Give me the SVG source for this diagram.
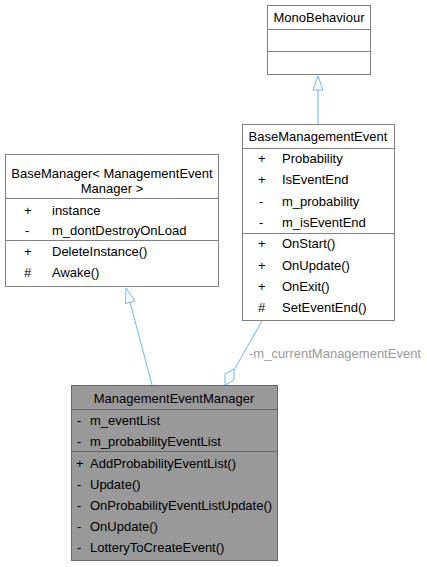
<svg xmlns="http://www.w3.org/2000/svg" width="427" height="567" viewBox="0 0 427 567">
<style>
text{font-family:"Liberation Sans",Arial,sans-serif;font-size:13px;fill:#000}
.box{fill:#fff;stroke:#808080;stroke-width:1}
.cur{fill:#999;stroke:#666;stroke-width:1}
.div{stroke:#808080;stroke-width:1}
.divc{stroke:#666;stroke-width:1}
.edge{fill:none;stroke:#63b8ff;stroke-width:1}
.head{fill:#fff;stroke:#63b8ff;stroke-width:1}
.lbl{fill:#9a9a9a}
.c{text-anchor:middle}
</style>
<g id="connectors">
<line class="edge" x1="318" y1="124" x2="318" y2="90"/>
<polygon class="head" points="318,76 313,90 323,90"/>
<line class="edge" x1="152" y1="385" x2="130" y2="302"/>
<polygon class="head" points="126,288 125.5,303.5 135,301"/>
<line class="edge" x1="262" y1="321" x2="234" y2="370"/>
<polygon class="head" points="225,385 225,374 234,369 234,380"/>
<text class="lbl" x="249" y="358">-m_currentManagementEvent</text>
</g>
<g id="MonoBehaviour">
<rect class="box" x="267.5" y="5.5" width="103" height="69"/>
<line class="div" x1="267.5" y1="29.5" x2="370.5" y2="29.5"/>
<line class="div" x1="267.5" y1="51.5" x2="370.5" y2="51.5"/>
<text class="c" x="319" y="22">MonoBehaviour</text>
</g>
<g id="BaseManagementEvent">
<rect class="box" x="242.5" y="124.5" width="152" height="196"/>
<line class="div" x1="242.5" y1="148.5" x2="394.5" y2="148.5"/>
<line class="div" x1="242.5" y1="233.5" x2="394.5" y2="233.5"/>
<text class="c" x="318" y="141">BaseManagementEvent</text>
<text x="258" y="163">+</text><text x="282" y="163">Probability</text>
<text x="258" y="184">+</text><text x="282" y="184">IsEventEnd</text>
<text x="259" y="206">-</text><text x="282" y="206">m_probability</text>
<text x="259" y="227">-</text><text x="282" y="227">m_isEventEnd</text>
<text x="258" y="248">+</text><text x="282" y="248">OnStart()</text>
<text x="258" y="270">+</text><text x="282" y="270">OnUpdate()</text>
<text x="258" y="291">+</text><text x="282" y="291">OnExit()</text>
<text x="258" y="312">#</text><text x="282" y="312">SetEventEnd()</text>
</g>
<g id="BaseManager">
<rect class="box" x="5.5" y="154.5" width="213" height="132"/>
<line class="div" x1="5.5" y1="198.5" x2="218.5" y2="198.5"/>
<line class="div" x1="5.5" y1="240.5" x2="218.5" y2="240.5"/>
<text class="c" x="112" y="178">BaseManager&lt; ManagementEvent</text>
<text class="c" x="112" y="193">Manager &gt;</text>
<text x="24" y="215">+</text><text x="52" y="215">instance</text>
<text x="25" y="235">-</text><text x="52" y="235">m_dontDestroyOnLoad</text>
<text x="24" y="256">+</text><text x="52" y="256">DeleteInstance()</text>
<text x="24" y="277">#</text><text x="52" y="277">Awake()</text>
</g>
<g id="ManagementEventManager">
<rect class="cur" x="71.5" y="385.5" width="206" height="175"/>
<line class="divc" x1="71.5" y1="409.5" x2="277.5" y2="409.5"/>
<line class="divc" x1="71.5" y1="451.5" x2="277.5" y2="451.5"/>
<text class="c" x="174" y="403">ManagementEventManager</text>
<text x="77" y="425">-</text><text x="90" y="425">m_eventList</text>
<text x="77" y="446">-</text><text x="90" y="446">m_probabilityEventList</text>
<text x="76" y="468">+</text><text x="90" y="468">AddProbabilityEventList()</text>
<text x="77" y="489">-</text><text x="90" y="489">Update()</text>
<text x="77" y="510">-</text><text x="90" y="510">OnProbabilityEventListUpdate()</text>
<text x="77" y="531">-</text><text x="90" y="531">OnUpdate()</text>
<text x="77" y="552">-</text><text x="90" y="552">LotteryToCreateEvent()</text>
</g>
</svg>
